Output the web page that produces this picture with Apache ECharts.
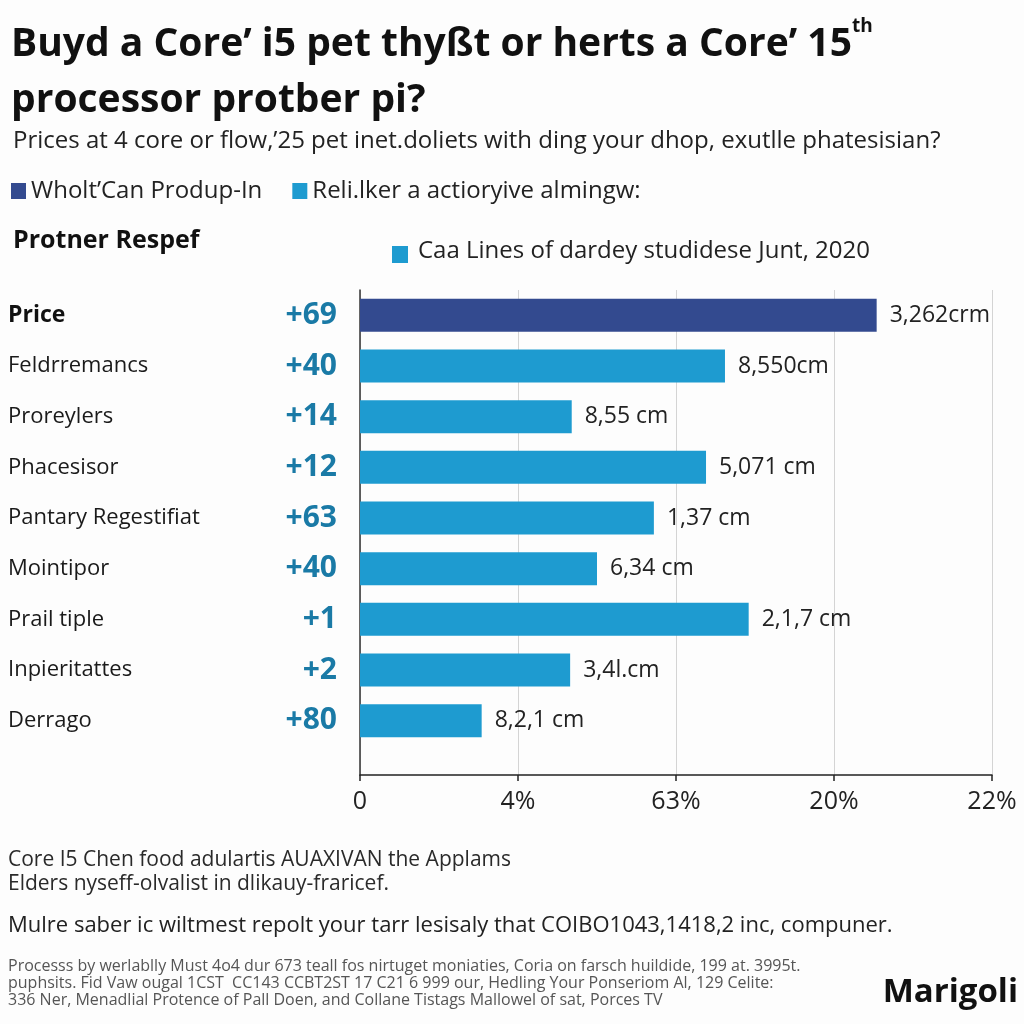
<!DOCTYPE html>
<html>
<head>
<meta charset="utf-8">
<script src="https://cdn.jsdelivr.net/npm/echarts@6/dist/echarts.min.js"></script>
<style>
html,body{margin:0;padding:0;background:#fdfdfd;}
#c{width:1024px;height:1024px;}
</style>
</head>
<body>
<div id="c"></div>
<script>
// ---- data ----
var categories = ["Price","Feldrremancs","Proreylers","Phacesisor","Pantary Regestifiat","Mointipor","Prail tiple","Inpieritattes","Derrago"];
var deltas = ["+69","+40","+14","+12","+63","+40","+1","+2","+80"];
var values = [3.27, 2.31, 1.34, 2.19, 1.86, 1.50, 2.46, 1.33, 0.77];
var valueLabels = ["3,262crm","8,550cm","8,55 cm","5,071 cm","1,37 cm","6,34 cm","2,1,7 cm","3,4l.cm","8,2,1 cm"];
var tickLabels = ["0","4%","63%","20%","22%"];
var seriesNames = ["Wholt\u2019Can Produp-In","Reli.lker a actioryive almingw:"];
var extraLegend = "Caa Lines of dardey studidese Junt, 2020";

var NAVY = "#334a8f", CYAN = "#1e9bd0", DELTA = "#1a7aa6";
var FONT = "'Open Sans', 'Noto Sans', sans-serif";

var highlightData = values.map(function(v,i){ return i===0 ? v : '-'; });
var restData = values.map(function(v,i){ return i===0 ? '-' : v; });

var chart = echarts.init(document.getElementById('c'), null, {renderer:'canvas'});

function valLabel(p){ return valueLabels[p.dataIndex]; }

var option = {
  backgroundColor: '#fdfdfd',
  textStyle: {fontFamily: FONT},
  title: [
    {text: "Buyd a Core\u2019 i5 pet thy\u00dft or herts a Core\u2019 15{s|th}\nprocessor protber pi?", left: 6, top: 12,
     textStyle: {fontSize: 39, fontWeight: 'bold', color: '#111', lineHeight: 56, fontFamily: FONT,
       rich: {s: {fontSize: 19, fontWeight: 'bold', color: '#111', verticalAlign: 'top', padding:[0,0,22,0], fontFamily: FONT}}}},
    {text: "Prices at 4 core or flow,\u201925 pet inet.doliets with ding your dhop, exutlle phatesisian?", left: 8, top: 124,
     textStyle: {fontSize: 24, fontWeight: 'normal', color: '#222', fontFamily: FONT}},
    {text: "Protner Respef", left: 8, top: 223, textStyle: {fontSize: 25, fontWeight: 'bold', color: '#111', fontFamily: FONT}}
  ],
  legend: {
    left: 6, top: 174, itemWidth: 15, itemHeight: 16, itemGap: 30, icon: 'rect',
    textStyle: {fontSize: 24, color: '#222', fontFamily: FONT},
    data: seriesNames
  },
  grid: [
    {left: 360, top: 290, width: 632, height: 456},
    {left: 360, top: 290, width: 632, height: 485}
  ],
  xAxis: [
    {gridIndex: 0, type: 'value', min: 0, max: 4, interval: 1, show: false},
    {gridIndex: 1, type: 'value', min: 0, max: 4, interval: 1,
     axisLine: {show: true, lineStyle: {color: '#222', width: 1.5}},
     axisTick: {show: true, length: 6, lineStyle: {color: '#222', width: 1.5}},
     splitLine: {show: true, lineStyle: {color: '#d4d4d4', width: 1}},
     axisLabel: {fontSize: 25, color: '#222', margin: 14, fontFamily: FONT,
       formatter: function(v){ return tickLabels[Math.round(v)]; }}}
  ],
  yAxis: [
    {gridIndex: 0, type: 'category', inverse: true, data: categories,
     axisLine: {show: false}, axisTick: {show: false},
     axisLabel: {align: 'left', margin: 352, fontFamily: FONT,
       formatter: function(v, i){
         var n = i===0 ? '{b|'+v+'}' : '{n|'+v+'}';
         return n + '{d|'+deltas[i]+'}';
       },
       rich: {
         n: {fontSize: 22, color: '#1a1a1a', width: 254, fontFamily: FONT},
         b: {fontSize: 23, color: '#111', fontWeight: 'bold', width: 254, fontFamily: FONT},
         d: {fontSize: 30, color: DELTA, fontWeight: 'bold', width: 75, align: 'right', fontFamily: FONT}
       }}},
    {gridIndex: 1, type: 'value', min: 0, max: 1,
     axisLine: {show: true, lineStyle: {color: '#333', width: 1.5}},
     axisTick: {show: false}, axisLabel: {show: false}, splitLine: {show: false}}
  ],
  series: [
    {name: seriesNames[0], type: 'bar', xAxisIndex: 0, yAxisIndex: 0, stack: 'a',
     data: highlightData, barWidth: 33, itemStyle: {color: NAVY},
     label: {show: true, position: 'right', distance: 13, fontSize: 23, color: '#222', formatter: valLabel, fontFamily: FONT}},
    {name: seriesNames[1], type: 'bar', xAxisIndex: 0, yAxisIndex: 0, stack: 'a',
     data: restData, barWidth: 33, itemStyle: {color: CYAN},
     label: {show: true, position: 'right', distance: 13, fontSize: 23, color: '#222', formatter: valLabel, fontFamily: FONT}}
  ],
  graphic: [
    {type: 'rect', left: 392, top: 246, shape: {width: 16, height: 17}, style: {fill: CYAN}},
    {type: 'text', left: 418, top: 239, style: {text: extraLegend, fontSize: 24, fill: '#222', fontFamily: FONT}},
    {type: 'text', left: 8, top: 848, style: {text: "Core I5 Chen food adulartis AUAXIVAN the Applams\nElders nyseff-olvalist in dlikauy-fraricef.", fontSize: 21, lineHeight: 24, fill: '#2a2a2a', fontFamily: FONT}},
    {type: 'text', left: 8, top: 915, style: {text: "Mulre saber ic wiltmest repolt your tarr lesisaly that COIBO1043,1418,2 inc, compuner.", fontSize: 22, fill: '#222', fontFamily: FONT}},
    {type: 'text', left: 8, top: 958, style: {text: "Processs by werlablly Must 4o4 dur 673 teall fos nirtuget moniaties, Coria on farsch huildide, 199 at. 3995t.\npuphsits. Fid Vaw ougal 1CST  CC143 CCBT2ST 17 C21 6 999 our, Hedling Your Ponseriom Al, 129 Celite:\n336 Ner, Menadlial Protence of Pall Doen, and Collane Tistags Mallowel of sat, Porces TV", fontSize: 16, lineHeight: 17, fill: '#555', fontFamily: FONT}},
    {type: 'text', right: 6, top: 976, style: {text: "Marigoli", fontSize: 33, fontWeight: 'bold', fill: '#111', fontFamily: FONT}}
  ]
};
chart.setOption(option);
</script>
</body>
</html>
